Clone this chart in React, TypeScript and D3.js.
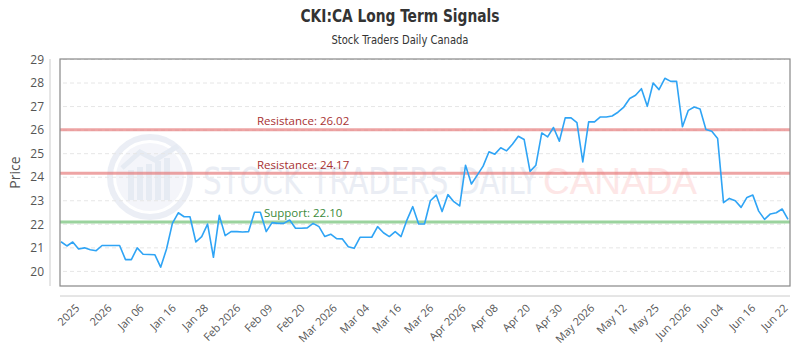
import * as d3 from 'd3'

// daily closes, Dec 2025 -> Jun 22 2026
const prices: number[] = [
  21.26, 21.08, 21.25, 20.95, 21.0, 20.92, 20.88, 21.1, 21.1, 21.1,
  21.1, 20.5, 20.5, 21.0, 20.73, 20.72, 20.71, 20.18, 20.95, 22.04,
  22.49, 22.32, 22.32, 21.25, 21.48, 22.01, 20.6, 22.38, 21.52, 21.69,
  21.69, 21.67, 21.69, 22.51, 22.51, 21.69, 22.07, 22.04, 22.04, 22.18,
  21.83, 21.83, 21.85, 22.04, 21.9, 21.48, 21.58, 21.39, 21.38, 21.05,
  20.98, 21.45, 21.45, 21.45, 21.9, 21.64, 21.48, 21.69, 21.48, 22.18,
  22.75, 22.01, 22.01, 23.0, 23.24, 22.54, 23.26, 22.96, 22.78, 24.51,
  23.71, 24.09, 24.47, 25.08, 24.98, 25.25, 25.12, 25.4, 25.74, 25.6,
  24.25, 24.51, 25.88, 25.71, 26.11, 25.53, 26.52, 26.52, 26.32, 24.65,
  26.35, 26.35, 26.56, 26.56, 26.6, 26.76, 26.98, 27.34, 27.48, 27.76,
  27.01, 28.0, 27.72, 28.2, 28.07, 28.07, 26.14, 26.84, 26.98, 26.9,
  26.03, 25.95, 25.64, 22.92, 23.1, 23.0, 22.72, 23.14, 23.24, 22.56,
  22.21, 22.44, 22.49, 22.65, 22.21,
]

const dateLabels: string[] = [
  '2025', '2026', 'Jan 06', 'Jan 16', 'Jan 28', 'Feb 2026', 'Feb 09', 'Feb 20',
  'Mar 2026', 'Mar 04', 'Mar 16', 'Mar 26', 'Apr 2026', 'Apr 08', 'Apr 20',
  'Apr 30', 'May 2026', 'May 12', 'May 25', 'Jun 2026', 'Jun 04', 'Jun 16', 'Jun 22',
]

const yTicks: number[] = [20, 21, 22, 23, 24, 25, 26, 27, 28, 29]

const levels = [
  { label: 'Resistance', value: 26.02, kind: 'res' },
  { label: 'Resistance', value: 24.17, kind: 'res' },
  { label: 'Support', value: 22.1, kind: 'sup' },
]

const W = 800
const H = 350
const plot = { left: 60, right: 790, top: 59, bottom: 286 }
const uiFont = '"Open Sans", "DejaVu Sans", sans-serif'

export default function App() {
  const x = d3.scaleLinear().domain([0, prices.length - 1]).range([61, 788])
  const y = d3.scaleLinear().domain([19.38, 29.02]).range([plot.bottom, plot.top])
  const xLab = d3.scalePoint<string>().domain(dateLabels).range([x(2.8), x(123.6)])

  const line = d3
    .line<number>()
    .x((_, i) => x(i))
    .y((d) => y(d))

  return (
    <svg
      width={W}
      height={H}
      style={{ display: 'block', position: 'absolute', left: 0, top: 0, background: '#fff' }}
    >
      {/* titles */}
      <text
        x={400}
        y={22}
        textAnchor="middle"
        fontFamily='"Liberation Sans Narrow", "DejaVu Sans Condensed", sans-serif'
        fontWeight="bold"
        fontSize={18}
        fill="#333"
        textLength={199}
        lengthAdjust="spacingAndGlyphs"
      >
        CKI:CA Long Term Signals
      </text>
      <text
        x={400}
        y={44}
        textAnchor="middle"
        fontFamily='"Liberation Sans Narrow", "DejaVu Sans Condensed", sans-serif'
        fontSize={12}
        fill="#333"
        textLength={137}
        lengthAdjust="spacingAndGlyphs"
      >
        Stock Traders Daily Canada
      </text>

      {/* watermark */}
      <g opacity={0.9}>
        <circle cx={150} cy={177} r={40} fill="none" stroke="#e9edf5" strokeWidth={6} />
        <circle cx={150} cy={177} r={34} fill="#f3f5fa" />
        {[0, 1, 2, 3, 4].map((i) => (
          <rect
            key={i}
            x={128 + i * 9}
            y={170 - i * 3}
            width={6}
            height={30 + i * 3}
            fill="#e4e9f2"
          />
        ))}
        <path d="M122,168 L140,152 L155,160 L178,146" fill="none" stroke="#e4e9f2" strokeWidth={5} />
        <text
          x={203}
          y={194}
          fontFamily='"Liberation Sans Narrow", "DejaVu Sans Condensed", sans-serif'
          fontSize={38}
          fill="#e8ecf3"
          textLength={335}
          lengthAdjust="spacingAndGlyphs"
        >
          STOCK TRADERS DAILY
        </text>
        <text
          x={543}
          y={194}
          fontFamily='"Liberation Sans", Arial, sans-serif'
          fontSize={37}
          fill="#fde4e4"
          textLength={154}
          lengthAdjust="spacingAndGlyphs"
        >
          CANADA
        </text>
      </g>

      {/* grid */}
      {yTicks.map((t) => (
        <line
          key={t}
          x1={plot.left + 3}
          x2={plot.right - 5}
          y1={y(t)}
          y2={y(t)}
          stroke="#e6e6e6"
          strokeDasharray="4,3"
        />
      ))}

      {/* support / resistance */}
      {levels.map((l) => {
        const col = l.kind === 'res' ? '#e57373' : '#66bb6a'
        return (
          <g key={l.value}>
            <line
              x1={plot.left}
              x2={plot.right}
              y1={y(l.value)}
              y2={y(l.value)}
              stroke={col}
              strokeOpacity={0.65}
              strokeWidth={3}
            />
            <text
              x={x(41.3)}
              y={y(l.value) - 4.5}
              textAnchor="middle"
              fontFamily={uiFont}
              fontSize={11.5}
              fill={l.kind === 'res' ? '#a83232' : '#3b8a3b'}
            >
              {`${l.label}: ${l.value.toFixed(2)}`}
            </text>
          </g>
        )
      })}

      {/* price line */}
      <path d={line(prices) ?? ''} fill="none" stroke="#2fa4f5" strokeWidth={1.6} strokeLinejoin="round" />

      {/* plot frame */}
      <rect
        x={plot.left}
        y={plot.top}
        width={plot.right - plot.left}
        height={plot.bottom - plot.top}
        fill="none"
        stroke="#888"
        strokeWidth={1.2}
      />

      {/* y axis */}
      <line x1={50} x2={50} y1={plot.top} y2={plot.bottom} stroke="#ccc" />
      {yTicks.map((t) => (
        <text
          key={t}
          x={44}
          y={y(t)}
          dy="0.35em"
          textAnchor="end"
          fontFamily={uiFont}
          fontSize={12}
          fill="#555"
        >
          {t}
        </text>
      ))}
      <text
        transform={`translate(20,${(plot.top + plot.bottom) / 2}) rotate(-90)`}
        textAnchor="middle"
        fontFamily={uiFont}
        fontSize={14}
        fill="#555"
      >
        Price
      </text>

      {/* x axis */}
      <line x1={plot.left} x2={plot.right} y1={296} y2={296} stroke="#ccc" />
      {dateLabels.map((d) => (
        <text
          key={d}
          transform={`translate(${xLab(d)},306) rotate(-45)`}
          dy="0.35em"
          textAnchor="end"
          fontFamily={uiFont}
          fontSize={11}
          fill="#555"
        >
          {d}
        </text>
      ))}
    </svg>
  )
}
